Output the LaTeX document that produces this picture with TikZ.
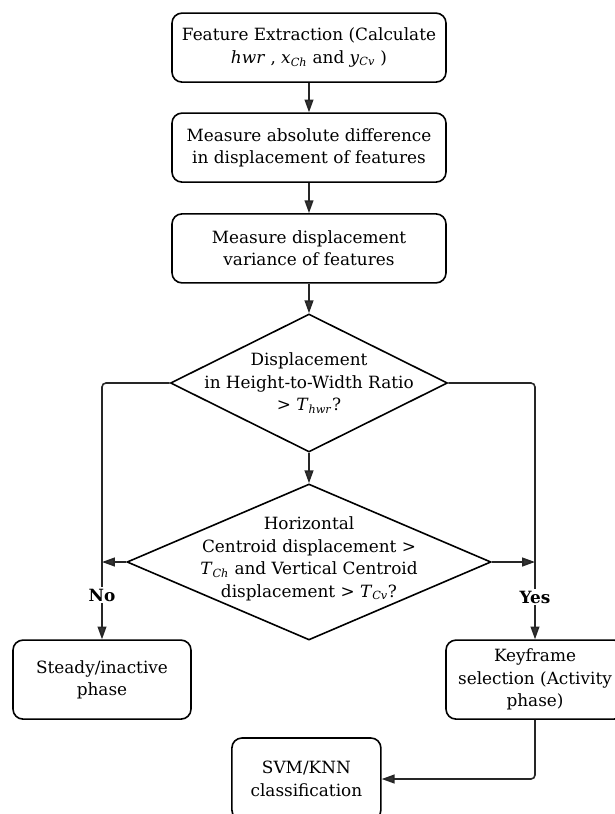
\documentclass[tikz,border=0pt]{standalone}
\usepackage{fontspec}
\setmainfont{DejaVu Serif}
\usepackage{tikz}
\usetikzlibrary{arrows.meta, positioning, shapes.geometric, calc}

\newcommand{\isub}[2]{\textit{#1}\textsubscript{\textit{#2}}}

\begin{document}
\begin{tikzpicture}[
    font=\fontsize{12}{16}\selectfont,
    line width=0.04cm,
    box/.style={draw, rounded corners=0.25cm, minimum width=6.85cm, minimum height=1.725cm, align=center, inner sep=2pt},
    endbox/.style={draw, rounded corners=0.25cm, minimum width=4.45cm, minimum height=1.975cm, align=center, inner sep=2pt},
    decision/.style={draw, diamond, inner sep=0pt},
    arrow/.style={-{Triangle[length=0.32cm, width=0.22cm, fill=black!80]}, draw=black!85},
    yesno/.style={fill=white, inner sep=1pt, font=\fontsize{12}{14}\selectfont\bfseries}
]
    \useasboundingbox (0,0) rectangle (15.35,-20.35);

    \node[box] (extract) at (7.725,-1.19) {Feature Extraction (Calculate\\\textit{hwr} , \isub{x}{Ch} and \isub{y}{Cv} )};
    \node[box] (absdiff) at (7.725,-3.69) {Measure absolute difference\\in displacement of features};
    \node[box] (variance) at (7.725,-6.21) {Measure displacement\\variance of features};

    \node[decision, minimum width=6.925cm, minimum height=3.45cm,
          label={[align=center]center:Displacement\\in Height-to-Width Ratio\\> \isub{T}{hwr}?}] (ratio) at (7.725,-9.575) {};
    \node[decision, minimum width=9.1cm, minimum height=3.9cm,
          label={[align=center, yshift=0.08cm]center:Horizontal\\Centroid displacement >\\\isub{T}{Ch} and Vertical Centroid\\displacement > \isub{T}{Cv}?}] (centroid) at (7.725,-14.05) {};

    \node[endbox] (steady) at (2.55,-16.99) {Steady/inactive\\phase};
    \node[endbox] (keyframe) at (13.375,-16.99) {Keyframe\\selection (Activity\\phase)};
    \node[draw, rounded corners=0.25cm, minimum width=3.725cm, minimum height=2.05cm, align=center] (classify) at (7.66,-19.475) {SVM/KNN\\classification};

    \draw[arrow] (extract) -- (absdiff);
    \draw[arrow] (absdiff) -- (variance);
    \draw[arrow] (variance) -- (ratio.north);
    \draw[arrow] (ratio.south) -- (centroid.north);

    % both decisions feed the two side branches
    \draw[arrow, rounded corners=0.1cm] (ratio.west) -| (steady.north);
    \draw[arrow, rounded corners=0.1cm] (ratio.east) -| (keyframe.north);
    \draw[arrow] (centroid.west) -- (centroid.west -| steady.north);
    \draw[arrow] (centroid.east) -- (centroid.east -| keyframe.north);
    \node[yesno] (no) at (2.55,-14.875) {No};
    \node[yesno] (yes) at (13.375,-14.925) {Yes};

    \draw[arrow, rounded corners=0.1cm] (keyframe.south) |- (classify.east);
\end{tikzpicture}
\end{document}
